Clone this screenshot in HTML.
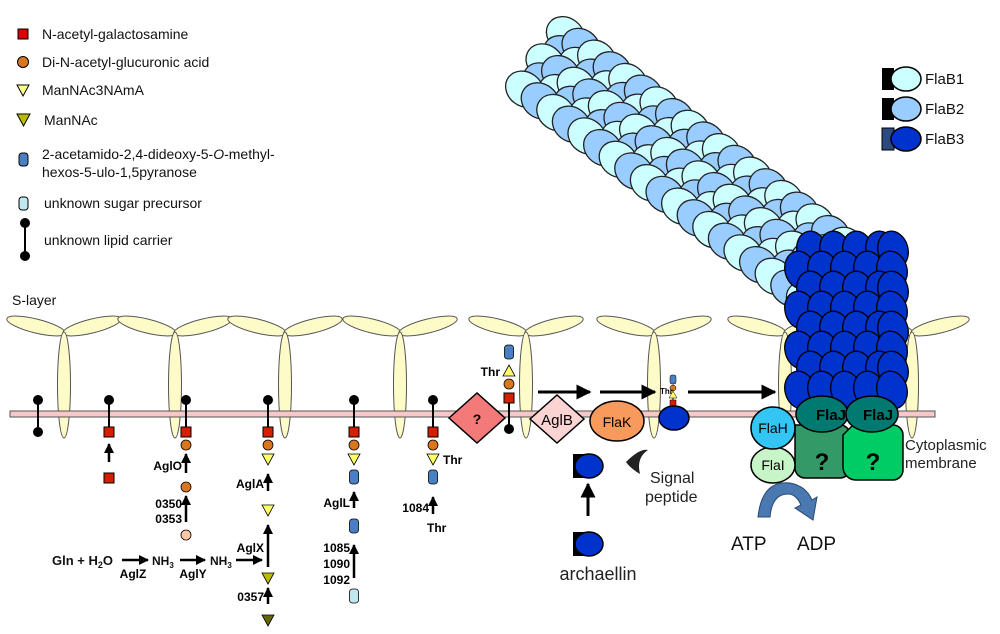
<!DOCTYPE html>
<html><head><meta charset="utf-8"><style>
html,body{margin:0;padding:0;background:#fff;width:1000px;height:634px;overflow:hidden}
text{font-family:"Liberation Sans",sans-serif}
</style></head><body>
<svg id="s" width="1000" height="634" viewBox="0 0 1000 634" xmlns="http://www.w3.org/2000/svg">
<defs>
<marker id="ah" viewBox="0 0 10 10" refX="9" refY="5" markerWidth="5" markerHeight="5" orient="auto"><path d="M0,0L10,5L0,10z" fill="#000"/></marker>
<marker id="ahb" viewBox="0 0 10 10" refX="9" refY="5" markerWidth="4" markerHeight="4" orient="auto"><path d="M0,0L10,5L0,10z" fill="#000"/></marker>
</defs>
<g id="slayer"></g>
<rect x="10" y="411" width="925" height="6" fill="#f7c8c8" stroke="#555" stroke-width="1"/>
<g id="fil"></g>
<g id="rest" font-weight="bold" font-size="12"></g>

<g font-size="14" fill="#111">
<rect x="18" y="29" width="10" height="10" fill="#d00" stroke="#000"/><text x="42" y="39">N-acetyl-galactosamine</text>
<circle cx="23" cy="62" r="5.5" fill="#d9761e" stroke="#000"/><text x="42" y="67">Di-N-acetyl-glucuronic acid</text>
<path d="M17,85L29,85L23,96z" fill="#ffff88" stroke="#000"/><text x="42" y="95">ManNAc3NAmA</text>
<path d="M17,114L30,114L23.5,126z" fill="#bbbb00" stroke="#000"/><text x="44" y="125">ManNAc</text>
<rect x="19" y="153" width="9" height="13" rx="3" fill="#4a7fc1" stroke="#000"/><text x="42" y="159">2-acetamido-2,4-dideoxy-5-<tspan font-style="italic">O</tspan>-methyl-</text><text x="42" y="177">hexos-5-ulo-1,5pyranose</text>
<rect x="19" y="197" width="9" height="13" rx="3" fill="#bfe8f0" stroke="#000"/><text x="44" y="208">unknown sugar precursor</text>
<line x1="25" y1="223" x2="25" y2="256" stroke="#000" stroke-width="2"/><circle cx="25" cy="223" r="5" fill="#000"/><circle cx="25" cy="256" r="5" fill="#000"/><text x="44" y="245">unknown lipid carrier</text>
<text x="12" y="305">S-layer</text>
</g>

<g font-size="15" fill="#111">
<rect x="882" y="68" width="12" height="22" fill="#000"/><ellipse cx="906" cy="79" rx="15" ry="12" fill="#ccffff" stroke="#000" stroke-width="1.5"/><text x="925" y="84">FlaB1</text>
<rect x="882" y="98" width="12" height="22" fill="#000"/><ellipse cx="906" cy="109" rx="15" ry="12" fill="#99ccff" stroke="#000" stroke-width="1.5"/><text x="925" y="114">FlaB2</text>
<rect x="882" y="128" width="12" height="22" fill="#2a4a80" stroke="#000"/><ellipse cx="906" cy="139" rx="15" ry="12" fill="#0033cc" stroke="#000" stroke-width="1.5"/><text x="925" y="144">FlaB3</text>
</g>

<g>
<path d="M449,418L477,393L505,418L477,443z" fill="#f47a7a" stroke="#000" stroke-width="1.5"/><text x="477" y="424" font-size="14" font-weight="bold" text-anchor="middle">?</text>
<path d="M530,419L557,395L584,419L557,443z" fill="#fcd3d3" stroke="#000" stroke-width="1.5"/><text x="557" y="425" font-size="15" text-anchor="middle">AglB</text>
<ellipse cx="617" cy="421" rx="27" ry="20" fill="#f79a5c" stroke="#000" stroke-width="1.5"/><text x="617" y="427" font-size="14" text-anchor="middle">FlaK</text>
<ellipse cx="674" cy="418" rx="15" ry="12" fill="#0033cc" stroke="#000" stroke-width="1.5"/>
<line x1="538" y1="392" x2="590" y2="392" stroke="#000" stroke-width="3" marker-end="url(#ah)"/>
<line x1="600" y1="392" x2="655" y2="392" stroke="#000" stroke-width="3" marker-end="url(#ah)"/>
<line x1="688" y1="392" x2="775" y2="392" stroke="#000" stroke-width="3" marker-end="url(#ah)"/>
<path d="M626,462 Q640,448 648,450 Q636,458 640,474 Q630,468 626,462z" fill="#222"/>
<text x="650" y="483" font-size="16" fill="#222">Signal</text><text x="645" y="502" font-size="16" fill="#222">peptide</text>
<rect x="573" y="454" width="14" height="24" fill="#000"/><ellipse cx="589" cy="466" rx="14" ry="12" fill="#0033cc" stroke="#000" stroke-width="1.5"/>
<line x1="588" y1="516" x2="588" y2="484" stroke="#000" stroke-width="3" marker-end="url(#ah)"/>
<rect x="573" y="532" width="14" height="24" fill="#000"/><ellipse cx="589" cy="544" rx="14" ry="12" fill="#0033cc" stroke="#000" stroke-width="1.5"/>
<text x="598" y="580" font-size="18" text-anchor="middle" fill="#222">archaellin</text>

<path d="M795,425 h45 a10,10 0 0 1 10,10 v33 a10,10 0 0 1 -10,10 h-35 a10,10 0 0 1 -10,-10 v-33z" fill="#339966" stroke="#000" stroke-width="1.5"/>
<path d="M853,425 h40 a10,10 0 0 1 10,10 v35 a10,10 0 0 1 -10,10 h-37 a13,13 0 0 1 -13,-13 v-32z" fill="#00cc66" stroke="#000" stroke-width="1.5"/>
<text x="822" y="470" font-size="24" font-weight="bold" text-anchor="middle">?</text>
<text x="873" y="470" font-size="24" font-weight="bold" text-anchor="middle">?</text>
<ellipse cx="822" cy="414" rx="26" ry="18" fill="#007a70" stroke="#000" stroke-width="1.5"/><text x="831" y="420" font-size="15" font-weight="bold" text-anchor="middle">FlaJ</text>
<ellipse cx="872" cy="414" rx="26" ry="18" fill="#007a70" stroke="#000" stroke-width="1.5"/><text x="878" y="420" font-size="15" font-weight="bold" text-anchor="middle">FlaJ</text>
<ellipse cx="773" cy="465" rx="22" ry="18" fill="#c8f5c8" stroke="#000" stroke-width="1.5"/><text x="773" y="470" font-size="14" text-anchor="middle">FlaI</text>
<ellipse cx="773" cy="428" rx="22" ry="21" fill="#33c6f5" stroke="#000" stroke-width="1.5"/><text x="773" y="433" font-size="14" text-anchor="middle">FlaH</text>
<text x="905" y="450" font-size="15" fill="#222">Cytoplasmic</text><text x="905" y="468" font-size="15" fill="#222">membrane</text>
<path d="M758,517 Q762,480 790,483 Q806,486 812,500 L817,497 L813,520 L795,508 L801,505 Q796,494 788,494 Q772,494 770,517z" fill="#4a78b0" stroke="#2a4a70" stroke-width="1"/>
<text x="731" y="550" font-size="19" fill="#111">ATP</text><text x="797" y="550" font-size="19" fill="#111">ADP</text>
<g font-weight="bold" fill="#111">
<text x="52" y="565" font-size="13">Gln + H<tspan font-size="9" dy="3">2</tspan><tspan dy="-3">O</tspan></text>
<text x="152" y="565" font-size="12">NH<tspan font-size="8" dy="3">3</tspan></text>
<text x="210" y="565" font-size="12">NH<tspan font-size="8" dy="3">3</tspan></text>
</g>
</g>
</svg>
<script>
var NS="http://www.w3.org/2000/svg";
function el(p,t,a,txt){var e=document.createElementNS(NS,t);for(var k in a)e.setAttribute(k,a[k]);if(txt!=null)e.textContent=txt;document.getElementById(p).appendChild(e);return e;}
var piv=[64,175,285,400,526,654,785,912];
piv.forEach(function(x){
 el('slayer','ellipse',{cx:x-28,cy:326,rx:30,ry:7,transform:'rotate(14 '+(x-28)+' 326)',fill:'#fdfbc8',stroke:'#555','stroke-width':1});
 el('slayer','ellipse',{cx:x+28,cy:326,rx:30,ry:7,transform:'rotate(-14 '+(x+28)+' 326)',fill:'#fdfbc8',stroke:'#555','stroke-width':1});
 el('slayer','ellipse',{cx:x,cy:385,rx:6.5,ry:53,fill:'#fdfbc8',stroke:'#555','stroke-width':1});
});
var ax=545,ay=62,ux=0.8,uy=0.6,nx=-0.6,ny=0.8;
for(var i=0;i<=18;i++){for(var j=-2;j<=2;j++){
 var d=i*19.5+(j%2?9:0),o=j*17;
 var ex=ax+ux*d+nx*o,ey=ay+uy*d+ny*o;
 var c=((i+j)%2==0)?'#ccffff':'#99ccff';
 el('fil','ellipse',{cx:ex.toFixed(1),cy:ey.toFixed(1),rx:20,ry:17,transform:'rotate(37 '+ex.toFixed(1)+' '+ey.toFixed(1)+')',fill:c,stroke:'#222','stroke-width':1.3});
}}
for(var r=0;r<8;r++){var yy=250+r*20;for(var k=0;k<5;k++){var xx=806+k*23+(r%2?-6:6);if(xx>893)xx=893;
 el('fil','ellipse',{cx:xx,cy:yy,rx:15,ry:19,transform:'rotate(-15 '+xx+' '+yy+')',fill:'#0033cc',stroke:'#000','stroke-width':1.3});}}
function lip(x,top){el('rest','line',{x1:x,y1:400,x2:x,y2:432,stroke:'#000','stroke-width':2});el('rest','circle',{cx:x,cy:400,r:5,fill:'#000'});if(!top)el('rest','circle',{cx:x,cy:432,r:5,fill:'#000'});}
function sq(x,y){el('rest','rect',{x:x-5,y:y-5,width:10,height:10,fill:'#d42000',stroke:'#000'});}
function ci(x,y,f){el('rest','circle',{cx:x,cy:y,r:5,fill:f||'#d9761e',stroke:'#000','stroke-width':.8});}
function tr(x,y,f){el('rest','path',{d:'M'+(x-6)+','+(y-5)+'L'+(x+6)+','+(y-5)+'L'+x+','+(y+6)+'z',fill:f||'#ffff66',stroke:'#000','stroke-width':.8});}
function tru(x,y){el('rest','path',{d:'M'+(x-6)+','+(y+5)+'L'+(x+6)+','+(y+5)+'L'+x+','+(y-6)+'z',fill:'#ffff66',stroke:'#000','stroke-width':.8});}
function cyl(x,y,f){el('rest','rect',{x:x-4.5,y:y-7,width:9,height:14,rx:3,fill:f||'#4a7fc1',stroke:'#000','stroke-width':.8});}
function ar(x,y1,y2){el('rest','line',{x1:x,y1:y1,x2:x,y2:y2,stroke:'#000','stroke-width':2.5,'marker-end':'url(#ahb)'});}
function ah(x1,x2,y){el('rest','line',{x1:x1,y1:y,x2:x2,y2:y,stroke:'#000','stroke-width':2.5,'marker-end':'url(#ahb)'});}
function tx(x,y,s,a,sz){el('rest','text',{x:x,y:y,'text-anchor':a||'start','font-size':sz||12},s);}
lip(38);
lip(109,1);sq(109,432);ar(109,462,444);sq(109,478);
lip(186,1);sq(186,432);ci(186,445);ar(186,473,454);tx(182,470,'AglO','end');ci(186,487);ar(186,522,496);tx(182,508,'0350','end');tx(182,523,'0353','end');ci(186,535,'#fcc8a8');
lip(268,1);sq(268,432);ci(268,445);tr(268,459);ar(268,491,474);tx(264,488,'AglA','end');tr(268,510);ar(268,567,525);tx(264,552,'AglX','end');tr(268,578,'#bbbb00');ar(268,604,588);tx(264,601,'0357','end');tr(268,620,'#666600');
lip(354,1);sq(354,432);ci(354,445);tr(354,459);cyl(354,477);ar(354,508,492);tx(350,507,'AglL','end');cyl(354,526);ar(354,578,545);tx(350,552,'1085','end');tx(350,568,'1090','end');tx(350,584,'1092','end');cyl(354,596,'#bfe8f0');
lip(433,1);sq(433,432);ci(433,445);tr(433,459);tx(443,464,'Thr');cyl(433,477);ar(433,514,497);tx(429,512,'1084','end');tx(427,532,'Thr');
el('rest','line',{x1:509,y1:398,x2:509,y2:429,stroke:'#000','stroke-width':2});el('rest','circle',{cx:509,cy:429,r:5,fill:'#000'});
sq(509,398);ci(509,384);tru(509,371);tx(500,376,'Thr','end');cyl(509,352);
el('rest','line',{x1:673,y1:406,x2:673,y2:398,stroke:'#000','stroke-width':1});
el('rest','rect',{x:670,y:400,width:6,height:6,fill:'#d42000',stroke:'#000','stroke-width':.5});
el('rest','path',{d:'M669,398L677,398L673,391z',fill:'#ffff66',stroke:'#000','stroke-width':.5});
el('rest','circle',{cx:673,cy:388,r:3,fill:'#d9761e',stroke:'#000','stroke-width':.5});
el('rest','rect',{x:670,y:375,width:6,height:9,rx:2,fill:'#4a7fc1',stroke:'#000','stroke-width':.5});
tx(660,394,'Thr','start',8);
ah(122,148,560);tx(133,578,'AglZ','middle');
ah(180,205,560);tx(193,578,'AglY','middle');
ah(236,262,560);
</script>
</body></html>
